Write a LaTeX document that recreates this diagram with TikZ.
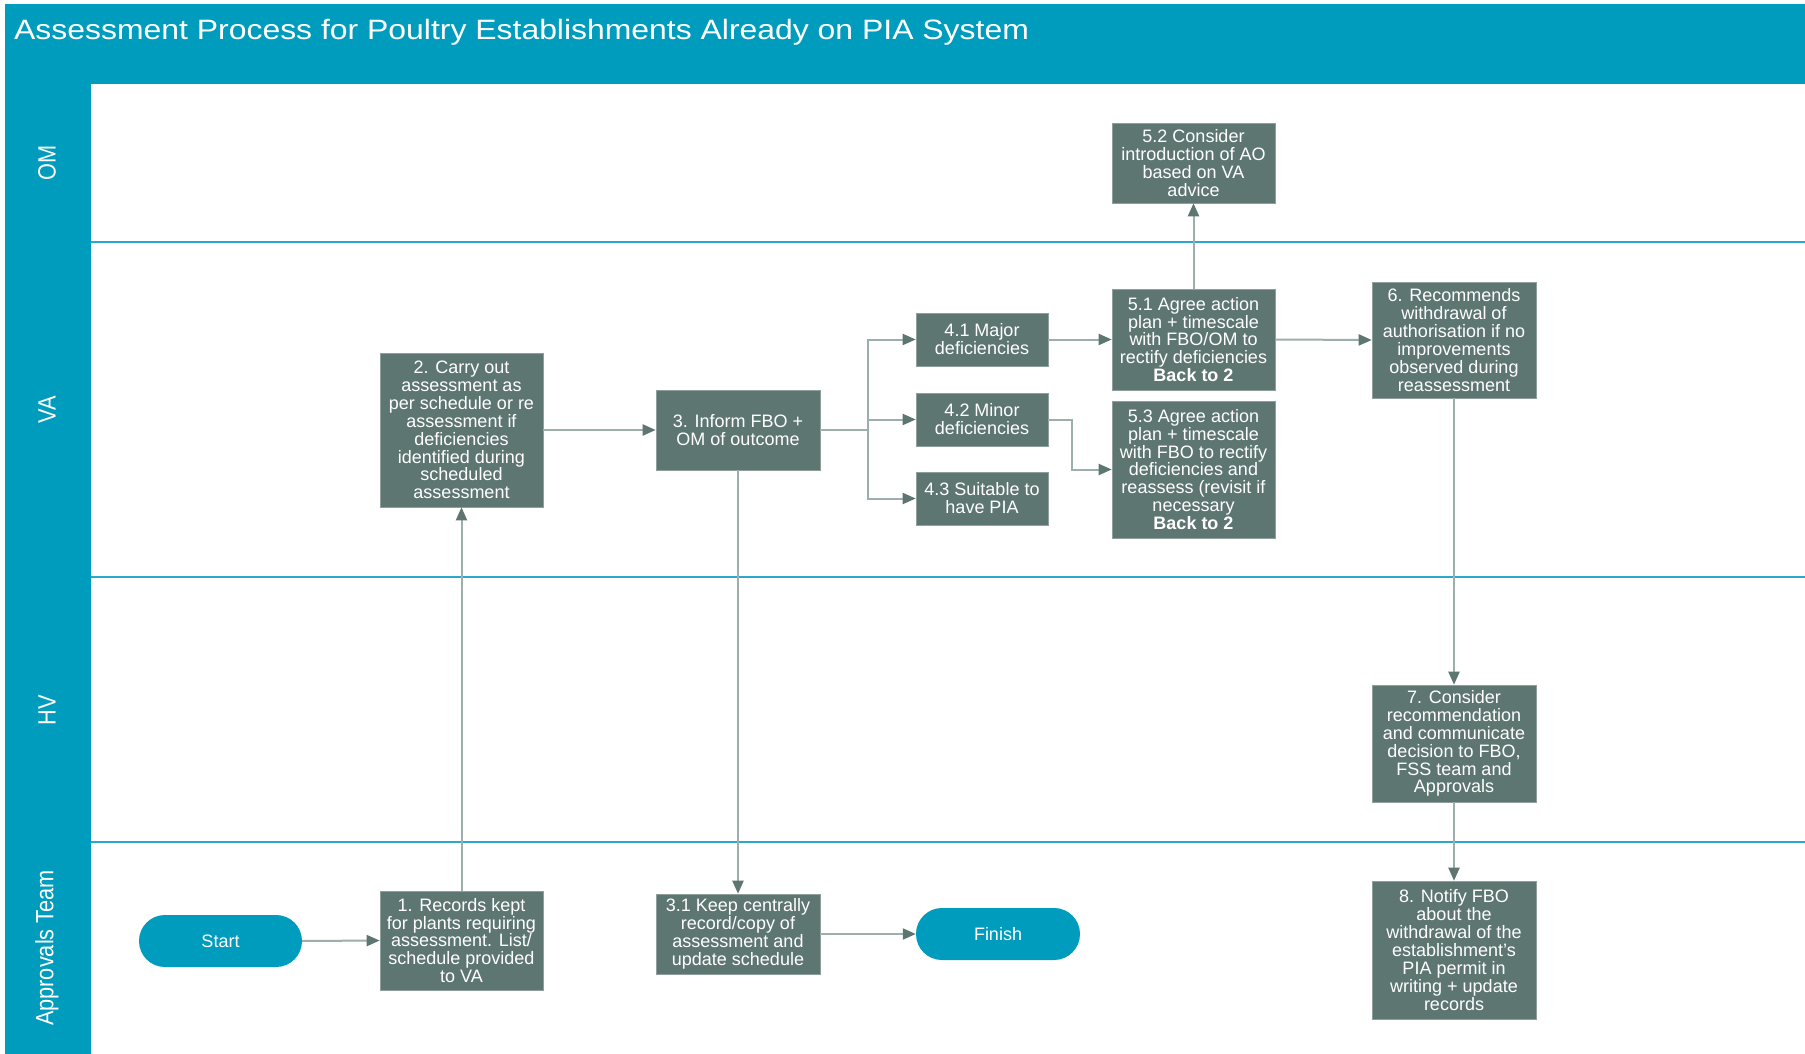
\documentclass[tikz,border=0pt]{standalone}
\usepackage{fontspec}
\setmainfont{Liberation Sans}
\usetikzlibrary{arrows.meta}
\definecolor{hdr}{HTML}{009CBE}
\definecolor{boxc}{HTML}{5E7672}
\definecolor{lanel}{HTML}{2AA9CC}
\definecolor{connc}{HTML}{9DAFAC}
\begin{document}
\begin{tikzpicture}[x=1pt,y=-1pt,
  proc/.style={fill=boxc, draw=boxc!70!white, line width=0.6pt, text=white, align=center,
    inner sep=2pt, font=\fontsize{18}{17.9}\selectfont},
  term/.style={fill=hdr, rounded corners=25.9pt, text=white, align=center,
    font=\fontsize{18}{20}\selectfont, minimum width=163pt, minimum height=52pt},
  lanelabel/.style={rotate=90, text=white, font=\fontsize{25}{30}\selectfont},
  conn/.style={draw=connc, line width=2pt},
  arr/.style={conn, -{Triangle[length=13pt,width=11pt,color=boxc]}}
]
\useasboundingbox (0,0) rectangle (1805,1054);
\fill[white] (0,0) rectangle (1805,1054);
% header and lane column
\fill[hdr] (5,4) rectangle (1805,84);
\fill[hdr] (5,84) rectangle (91,1054);
\node[anchor=base west, text=white, inner sep=0pt] (title) at (14,40)
  {\scalebox{1.14}[1]{\fontsize{28}{32}\selectfont Assessment Process for Poultry Establishments Already on PIA System}};
% lane separators
\draw[lanel, line width=1.5pt] (91,242) -- (1805,242);
\draw[lanel, line width=1.5pt] (91,577) -- (1805,577);
\draw[lanel, line width=1.5pt] (91,842) -- (1805,842);
% lane labels
\node[lanelabel] (lom) at (47,163) {\scalebox{0.87}[1]{OM}};
\node[lanelabel] (lva) at (47,410) {\scalebox{0.87}[1]{VA}};
\node[lanelabel] (lhv) at (47,710) {\scalebox{0.87}[1]{HV}};
\node[lanelabel] (lap) at (47,948) {\scalebox{0.87}[1]{Approvals Team}};
% process boxes
\node[proc, minimum width=163pt, minimum height=80pt] (n52) at (1193.5,163)
  {5.2 Consider\\introduction of AO\\based on VA\\advice};
\node[proc, minimum width=163pt, minimum height=101pt] (n51) at (1193.5,339.5)
  {5.1 Agree action\\plan + timescale\\with FBO/OM to\\rectify deficiencies\\\textbf{Back to 2}};
\node[proc, minimum width=163pt, minimum height=137pt] (n53) at (1193.5,469.5)
  {5.3 Agree action\\plan + timescale\\with FBO to rectify\\deficiencies and\\reassess (revisit if\\necessary\\\textbf{Back to 2}};
\node[proc, minimum width=164pt, minimum height=116pt] (n6) at (1454,340)
  {6. Recommends\\withdrawal of\\authorisation if no\\improvements\\observed during\\reassessment};
\node[proc, minimum width=163pt, minimum height=154pt] (n2) at (461.5,430)
  {2. Carry out\\assessment as\\per schedule or re\\assessment if\\deficiencies\\identified during\\scheduled\\assessment};
\node[proc, minimum width=164pt, minimum height=80pt] (n3) at (738,430)
  {3. Inform FBO +\\OM of outcome};
\node[proc, minimum width=132pt, minimum height=53pt] (n41) at (982,339.5)
  {4.1 Major\\deficiencies};
\node[proc, minimum width=132pt, minimum height=53pt] (n42) at (982,419.5)
  {4.2 Minor\\deficiencies};
\node[proc, minimum width=132pt, minimum height=53pt] (n43) at (982,498.5)
  {4.3 Suitable to\\have PIA};
\node[proc, minimum width=164pt, minimum height=117pt] (n7) at (1454,743.5)
  {7. Consider\\recommendation\\and communicate\\decision to FBO,\\FSS team and\\Approvals};
\node[proc, minimum width=164pt, minimum height=138pt] (n8) at (1454,950)
  {8. Notify FBO\\about the\\withdrawal of the\\establishment’s\\PIA permit in\\writing + update\\records};
\node[proc, minimum width=163pt, minimum height=99pt] (n1) at (461.5,940.5)
  {1. Records kept\\for plants requiring\\assessment. List/\\schedule provided\\to VA};
\node[proc, minimum width=164pt, minimum height=80pt] (n31) at (738,934)
  {3.1 Keep centrally\\record/copy of\\assessment and\\update schedule};
\node[term] (start) at (220.5,941) {Start};
\node[term, minimum width=164pt] (finish) at (998,934) {Finish};
% connectors
\coordinate (br) at (868,430);
\draw[arr] (start.east) -- (n1.west);
\draw[arr] (n1.north) -- (n2.south);
\draw[arr] (n2.east) -- (n3.west);
\draw[arr] (n3.south) -- (n31.north);
\draw[conn] (n3.east) -- (br);
\draw[arr] (br) |- (n41.west);
\draw[arr] (br) |- (n42.west);
\draw[arr] (br) |- (n43.west);
\draw[arr] (n41.east) -- (n51.west);
\draw[arr] (n42.east) -- ([xshift=24pt]n42.east) |- (n53.west);
\draw[arr] (n51.north) -- (n52.south);
\draw[arr] (n51.east) -- (n6.west);
\draw[arr] (n6.south) -- (n7.north);
\draw[arr] (n7.south) -- (n8.north);
\draw[arr] (n31.east) -- (finish.west);
\end{tikzpicture}
\end{document}
